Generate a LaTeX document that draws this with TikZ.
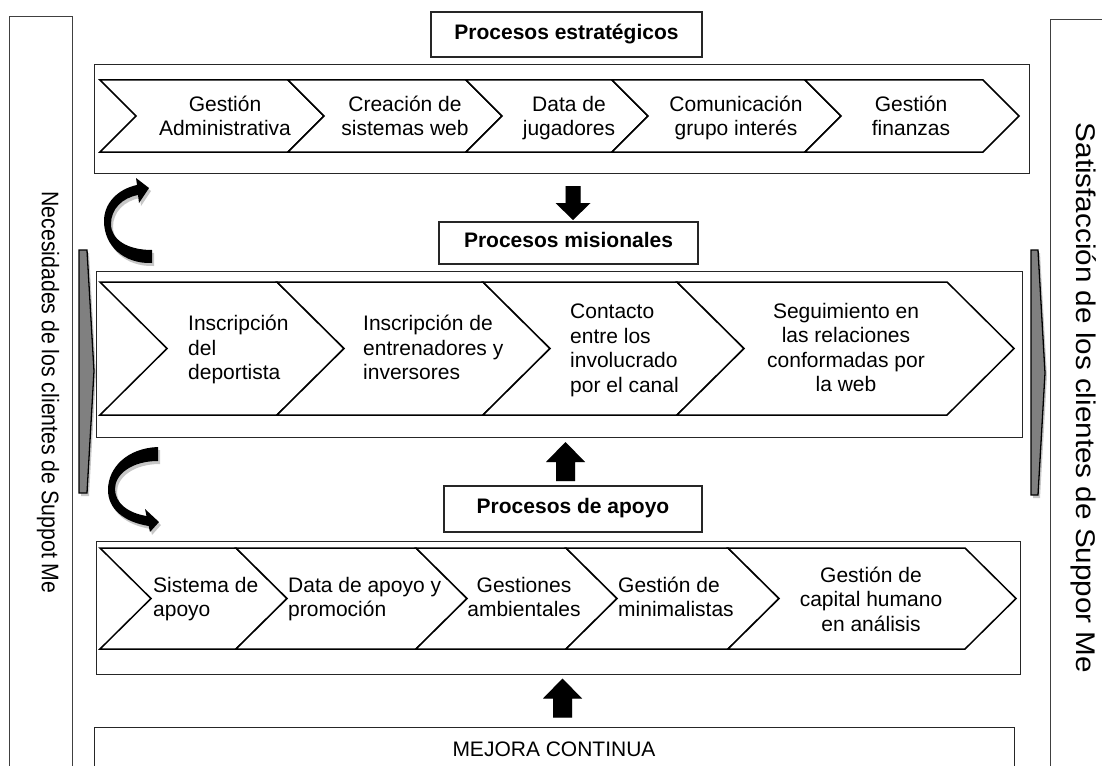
\documentclass[tikz,border=0pt]{standalone}
\usepackage{fontspec}
\setmainfont{Liberation Sans}
\usetikzlibrary{arrows.meta}
\newcommand\chevron[5]{%
  \draw[chev] (#1,#3) -- (#2,#3) -- ({#2+#5},{(#3+#4)/2}) -- (#2,#4) -- (#1,#4) -- ({#1+#5},{(#3+#4)/2}) -- cycle;}
\begin{document}
\begin{tikzpicture}[x=1pt,y=-1pt,
  box/.style={draw=black!85, line width=1.3pt, inner sep=0pt, anchor=north west},
  sidebox/.style={draw=black!75, line width=0.8pt, inner sep=0pt, anchor=north west},
  title/.style={draw=black!85, line width=1.3pt, inner sep=0pt, font=\fontsize{21}{24.5}\selectfont\bfseries},
  chev/.style={draw=black, line width=1.5pt, fill=white, line join=miter},
  txt/.style={inner sep=0pt, font=\fontsize{21}{24.5}\selectfont},
  bar/.style={fill=black!50, draw=black, line width=1.3pt, line join=miter},
  shadowfill/.style={fill=black, opacity=0.22},
  downarrow/.pic={\fill (-7.5,0) -- (7.5,0) -- (7.5,17) -- (17.5,17) -- (0,34) -- (-17.5,17) -- (-7.5,17) -- cycle;},
  uparrow/.pic={\fill (-9.5,0) -- (9.5,0) -- (9.5,-19) -- (19.5,-19) -- (0,-39) -- (-19.5,-19) -- (-9.5,-19) -- cycle;}
]
\useasboundingbox (0,0) rectangle (1102,765);
\clip (0,0) rectangle (1102,765);

% side boxes
\node[sidebox, minimum width=63pt, minimum height=800pt] (lbox) at (9,16) {};
\node[sidebox, minimum width=80pt, minimum height=800pt] (rbox) at (1050,19) {};
\node[inner sep=0pt, rotate=-90, font=\fontsize{24}{28}\selectfont] (ltext) at (48,392.5)
  {\scalebox{0.886}[1]{Necesidades de los clientes de Suppot Me}};
\node[inner sep=0pt, rotate=-90, font=\fontsize{27}{32}\selectfont] (rtext) at (1084,398)
  {\scalebox{1.098}[1]{Satisfacción de los clientes de Suppor Me}};

% titles
\node[title, minimum width=271pt, minimum height=45pt] (tE) at (566.5,34.5) {\strut Procesos estratégicos};
\node[title, minimum width=259pt, minimum height=42pt] (tM) at (568.5,243) {\strut Procesos misionales};
\node[title, minimum width=258pt, minimum height=46pt] (tA) at (573,509) {\strut Procesos de apoyo};

% outer boxes
\node[box, minimum width=935pt, minimum height=109pt] (sE) at (94,64) {};
\node[box, minimum width=926pt, minimum height=166pt] (sM) at (96,271) {};
\node[box, line width=1pt, minimum width=924pt, minimum height=133pt] (sA) at (96,541) {};
\node[box, minimum width=920pt, minimum height=80pt] (sC) at (94,727) {};
\node[txt] (mc) at (554,752) {\strut MEJORA CONTINUA};

% strategic chevrons
\chevron{100}{288}{80}{152}{36}
\chevron{288}{466}{80}{152}{36}
\chevron{466}{612}{80}{152}{36}
\chevron{612}{805}{80}{152}{36}
\chevron{805}{983}{80}{152}{36}
\node[txt, align=center] (e1) at (225,118.5) {\strut Gestión\\\strut Administrativa};
\node[txt, align=center] (e2) at (405,118.5) {\strut Creación de\\\strut sistemas web};
\node[txt, align=center] (e3) at (569,118.5) {\strut Data de\\\strut jugadores};
\node[txt, align=center] (e4) at (736,118.5) {\strut Comunicación\\\strut grupo interés};
\node[txt, align=center] (e5) at (911,118.5) {\strut Gestión\\\strut finanzas};

% mission chevrons
\chevron{100}{277}{282}{415}{67}
\chevron{277}{483}{282}{415}{67}
\chevron{483}{677}{282}{415}{67}
\chevron{677}{947}{282}{415}{67}
\node[txt, align=left, anchor=west] (m1) at (188,350.5) {\strut Inscripción\\\strut del\\\strut deportista};
\node[txt, align=left, anchor=west] (m2) at (363,350.5) {\strut Inscripción de\\\strut entrenadores y\\\strut inversores};
\node[txt, align=left, anchor=west] (m3) at (570,350.8) {\strut Contacto\\\strut entre los\\\strut involucrado\\\strut por el canal};
\node[txt, align=center] (m4) at (846,350.3) {\strut Seguimiento en\\\strut las relaciones\\\strut conformadas por\\\strut la web};

% support chevrons
\chevron{100}{236}{548}{649}{51}
\chevron{236}{416}{548}{649}{51}
\chevron{416}{566}{548}{649}{51}
\chevron{566}{728}{548}{649}{51}
\chevron{728}{965}{548}{649}{51}
\node[txt, align=left, anchor=west] (a1) at (153,599.7) {\strut Sistema de\\\strut apoyo};
\node[txt, align=left, anchor=west] (a2) at (288,599.7) {\strut Data de apoyo y\\\strut promoción};
\node[txt, align=center] (a3) at (524,599.7) {\strut Gestiones\\\strut ambientales};
\node[txt, align=left, anchor=west] (a4) at (618,599.7) {\strut Gestión de\\\strut minimalistas};
\node[txt, align=center] (a5) at (871,601.7) {\strut Gestión de\\\strut capital humano\\\strut en análisis};

% gray side bars
\begin{scope}[shift={(2,3)}]
\fill[shadowfill] (79,250) -- (87,250) -- (94,371) -- (87,493) -- (79,493) -- cycle;
\fill[shadowfill] (1031,250) -- (1038,250) -- (1045,373) -- (1038,495) -- (1031,495) -- cycle;
\end{scope}
\filldraw[bar] (79,250) -- (87,250) -- (94,371) -- (87,493) -- (79,493) -- cycle;
\filldraw[bar] (1031,250) -- (1038,250) -- (1045,373) -- (1038,495) -- (1031,495) -- cycle;

% curved arrows
\begin{scope}[shift={(2,3)}]
\fill[shadowfill] (152,263) .. controls (124,264) and (104,246) .. (104,221) .. controls (104,203) and (118,189) .. (137,185) -- (136,178) -- (149,188) -- (139,203) -- (138,195) .. controls (122,198) and (111,209) .. (111,224) .. controls (111,240) and (128,250) .. (152,250) -- cycle;
\fill[shadowfill] (158,447) .. controls (128,448) and (108,467) .. (108,490) .. controls (108,509) and (124,522) .. (148.7,526) -- (150,532) -- (159,522) -- (145,509) -- (146.5,516) .. controls (128,513) and (115,503) .. (115,489) .. controls (115,474) and (132,461) .. (158,461) -- cycle;
\end{scope}
\fill (152,263) .. controls (124,264) and (104,246) .. (104,221) .. controls (104,203) and (118,189) .. (137,185) -- (136,178) -- (149,188) -- (139,203) -- (138,195) .. controls (122,198) and (111,209) .. (111,224) .. controls (111,240) and (128,250) .. (152,250) -- cycle;
\fill (158,447) .. controls (128,448) and (108,467) .. (108,490) .. controls (108,509) and (124,522) .. (148.7,526) -- (150,532) -- (159,522) -- (145,509) -- (146.5,516) .. controls (128,513) and (115,503) .. (115,489) .. controls (115,474) and (132,461) .. (158,461) -- cycle;

% block arrows
\coordinate (d1) at (573,186);
\coordinate (u1) at (565.5,481);
\coordinate (u2) at (562.5,717.5);
\begin{scope}[opacity=0.22, shift={(2,3)}]
\pic at (d1) {downarrow};
\pic at (u1) {uparrow};
\pic at (u2) {uparrow};
\end{scope}
\pic at (d1) {downarrow};
\pic at (u1) {uparrow};
\pic at (u2) {uparrow};
\end{tikzpicture}
\end{document}
